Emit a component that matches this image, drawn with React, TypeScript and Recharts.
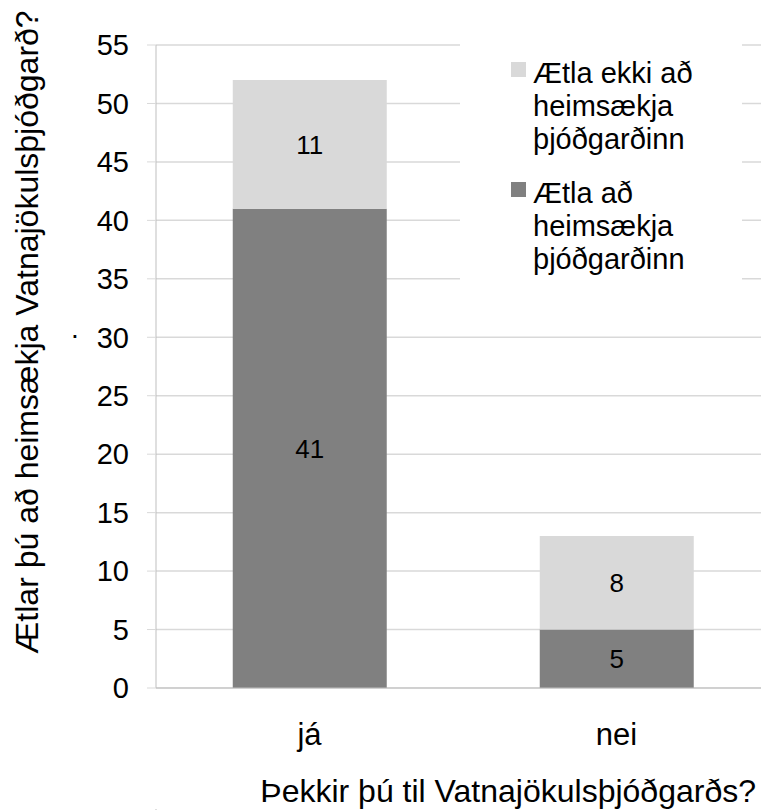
import { BarChart, Bar, XAxis, YAxis, CartesianGrid, LabelList } from "recharts"

const categories = ["já", "nei"]
const aetlaAd = [41, 5]
const aetlaEkki = [11, 8]
const yTicks = [0, 5, 10, 15, 20, 25, 30, 35, 40, 45, 50, 55]
const edgeTicks = [0, 1, 2]

const yTitle = "Ætlar þú að heimsækja Vatnajökulsþjóðgarð?"
const xTitle = "Þekkir þú til Vatnajökulsþjóðgarðs?"
const nameAd = "Ætla að heimsækja þjóðgarðinn"
const nameEkki = "Ætla ekki að heimsækja þjóðgarðinn"

const FONT = "'Liberation Sans', Arial, sans-serif"
const DARK = "#808080"
const LIGHT = "#d9d9d9"

const data = categories.map((cat, i) => ({
  cat,
  ad: aetlaAd[i],
  ekki: aetlaEkki[i],
}))

// legend order in the original: light series on top
const legendItems = [
  { name: nameEkki, color: LIGHT },
  { name: nameAd, color: DARK },
]

export default function App() {
  return (
    <div style={{ position: "absolute", left: 0, top: 0, width: 761, height: 810, overflow: "hidden", background: "#fff" }}>
      <BarChart
        width={776}
        height={810}
        data={data}
        margin={{ top: 45, right: 6, bottom: 0, left: 0 }}
        barCategoryGap="25%"
        style={{ fontFamily: FONT }}
      >
        <CartesianGrid horizontal vertical={false} stroke={LIGHT} strokeWidth={1.5} />
        <XAxis
          xAxisId="edges"
          type="number"
          domain={[0, 2]}
          ticks={edgeTicks}
          height={1}
          axisLine={false}
          tickLine={{ stroke: "#bfbfbf" }}
          tickSize={9}
          tick={() => <g />}
        />
        <XAxis
          dataKey="cat"
          height={121}
          axisLine={{ stroke: "#bfbfbf" }}
          tickLine={false}
          tickMargin={29}
          tick={{ fill: "#000", fontSize: 31 }}
          label={() => (
            <text x={756} y={802} textAnchor="end" fontSize={32} fill="#000" fontFamily={FONT}>
              {xTitle}
            </text>
          )}
        />
        <YAxis
          width={156}
          domain={[0, 55]}
          ticks={yTicks}
          interval={0}
          axisLine={{ stroke: "#bfbfbf" }}
          tickLine={{ stroke: LIGHT }}
          tickSize={9}
          tickMargin={18}
          tick={{ fill: "#000", fontSize: 29 }}
          label={() => (
            <g>
              <text
                x={38}
                y={332}
                transform="rotate(-90, 38, 332)"
                textAnchor="middle"
                fontSize={32}
                fill="#000"
                fontFamily={FONT}
              >
                {yTitle}
              </text>
              <text x={71} y={338} fontSize={28} fill="#000" fontFamily={FONT}>.</text>
            </g>
          )}
        />
        <Bar dataKey="ad" name={nameAd} stackId="a" fill={DARK} isAnimationActive={false}>
          <LabelList dataKey="ad" position="center" fill="#000" fontSize={26} />
        </Bar>
        <Bar dataKey="ekki" name={nameEkki} stackId="a" fill={LIGHT} isAnimationActive={false}>
          <LabelList dataKey="ekki" position="center" fill="#000" fontSize={26} />
        </Bar>
      </BarChart>
      <div
        style={{
          position: "absolute",
          left: 460,
          top: 40,
          width: 282,
          height: 245,
          boxSizing: "border-box",
          padding: "17px 0 0 51px",
          fontFamily: FONT,
          fontSize: 29,
          lineHeight: "33px",
          color: "#000",
          background: "#fff",
        }}
      >
        {legendItems.map((it) => (
          <div key={it.name} style={{ display: "flex", marginBottom: 21 }}>
            <div style={{ width: 15, height: 15, background: it.color, marginTop: 5, marginRight: 7, flexShrink: 0 }} />
            <div style={{ width: 200 }}>{it.name}</div>
          </div>
        ))}
      </div>
    </div>
  )
}
